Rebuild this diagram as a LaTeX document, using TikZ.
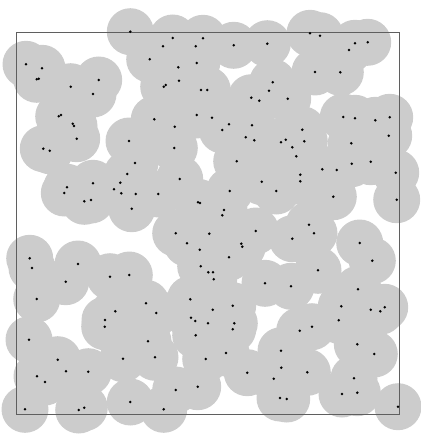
\documentclass[tikz,border=0pt]{standalone}
\definecolor{covergray}{RGB}{204, 204, 204}
\definecolor{framegray}{RGB}{95, 95, 95}
\usetikzlibrary{calc}
\tikzset{
	cover/.style={fill=covergray, draw=none},
	site/.style={fill=black, draw=none},
	window/.style={draw=framegray, line width=0.9pt},
}
\def\sitelist{130.3/31.7, 172.7/38, 203/38.3, 163/46.3, 195.7/46.3, 26/64.3, 42/68.3, 149.7/59.3, 196.7/63, 178.3/67.3, 36.7/79.3, 38.7/78.7, 98.7/80, 70.7/86.7, 179/80.7, 163.7/86.7, 165.7/85, 93/94, 201/90, 207.3/90, 58.7/116.3, 61/115, 72.7/123.7, 74/126, 154.3/119.3, 196.7/115, 174.7/126.7, 76.7/138.7, 129/141, 43.3/148.7, 174.3/148,
233.7/45.3, 267.3/43.7, 310/33.3, 320/35.7, 355/43.3, 367.7/42.3, 349/50, 315/72, 340.3/72.3, 272.7/82.3, 269/90.7, 251.3/97.7, 259.3/100.7, 287.7/98.7, 212/117.7, 229/124.3, 222.3/130, 252/125.3, 245.7/137.3, 254.3/140.3, 302.3/129.7, 281/142.3, 285.7/139.7, 304.3/141.3, 292.3/147.3, 343.3/117, 355/118.3, 375.3/120.3, 389.7/117.3, 388.7/135.7, 351.3/143.3,
49.7/150.7, 135/163, 127.3/174, 179.7/179, 93/183.3, 120.3/182.7, 67/187.3, 64.3/193, 114/189.3, 121.3/193.3, 135.7/194, 158.3/194, 198/202.3, 200/203, 84.3/201.3, 91/200, 131.7/208.7, 175.7/233.3, 187/243.3, 209.3/233.7, 199.7/249.7, 29.7/258.3, 32/268, 78/264, 200.7/266.3, 208.3/272.3, 129.3/275, 110/276.7, 65.7/281.7,
296.3/156.3, 236.7/161.3, 351.7/163.7, 370.7/161.7, 395.7/172.7, 322.3/169.3, 336.7/170, 300.3/174.7, 300.3/181.3, 261.7/181.7, 229.7/191, 276.3/191, 333.3/196.7, 396.7/199.7, 224/210, 222.3/215.3, 309/224.7, 314/233.3, 255.7/231, 292.3/238.7, 359.7/243, 241.3/243.7, 242.3/246.7, 229/257.3, 372.3/260.7, 213/272.3, 213.7/279.3, 318/270.3, 265/283.3, 291/286.3, 358/289.3,
36.7/299, 146/303.3, 156.3/313, 190.3/299.3, 115.3/311.3, 105/320, 104.7/326.7, 191/317.7, 195.3/321, 208/323.3, 195.7/335.3, 29/339.7, 148/341.3, 57.7/359.7, 123/358.7, 155/357.3, 205.7/359, 66/371.3, 88.3/371.7, 37/376.3, 45/382, 175.7/390, 197.7/386.7, 130.3/402, 25/409.3, 78.7/410, 84.3/407.7, 163.7/409.3,
212.7/309.7, 232.7/305.7, 234.3/323.3, 232.7/329.3, 341.3/306.3, 370.7/309.7, 380.3/311.3, 384.7/307.3, 338.7/320.3, 299.7/330.7, 312/326.7, 357.3/344.3, 281/350.7, 374.3/354, 226/353, 281.3/367.7, 247.3/372.7, 307.3/372.3, 273.7/378.7, 354/378.3, 357.3/392.7, 342/394, 280/398, 286.7/399, 398/406.7}
\begin{document}
\begin{tikzpicture}[x=0.5mm, y=-0.5mm]
		\useasboundingbox (0,0) rectangle (420,437);
		% coverage disks
		\foreach \px/\py in \sitelist
			\fill[cover] (\px,\py) circle[radius=23.5];
		% observation window
		\draw[window] (16,32) rectangle (399,414);
		% sites
		\foreach \px/\py in \sitelist
			\fill[site] (\px,\py) circle[radius=1.4];
	\end{tikzpicture}
\end{document}
